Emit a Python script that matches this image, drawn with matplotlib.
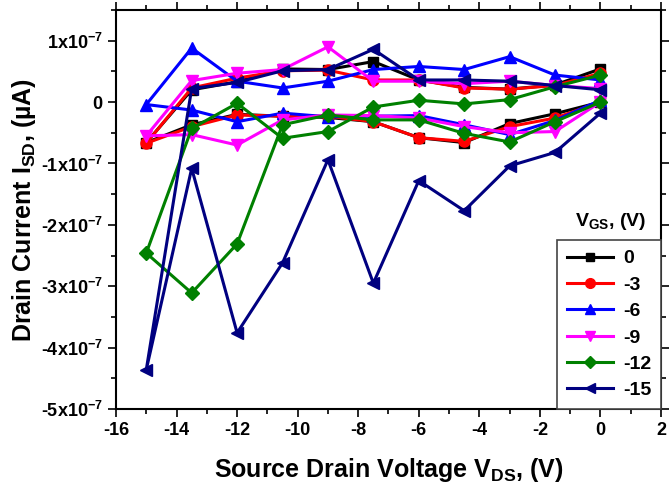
import matplotlib
matplotlib.use("Agg")
import matplotlib.pyplot as plt
from matplotlib.ticker import MultipleLocator, FixedLocator, FixedFormatter
from matplotlib.lines import Line2D

plt.rcParams['font.family'] = ['Liberation Sans', 'DejaVu Sans']
plt.rcParams['font.weight'] = 'bold'
plt.rcParams['mathtext.fontset'] = 'custom'
plt.rcParams['mathtext.rm'] = 'Liberation Sans:bold'
plt.rcParams['mathtext.bf'] = 'Liberation Sans:bold'
plt.rcParams['mathtext.it'] = 'Liberation Sans:bold'
plt.rcParams['axes.unicode_minus'] = False

# Source-drain voltage sweep (0 -> -15 -> 0)
vds = [0, -1.5, -3, -4.5, -6, -7.5, -9, -10.5, -12, -13.5, -15,
       -13.5, -12, -10.5, -9, -7.5, -6, -4.5, -3, -1.5, 0]

# Currents in units of 1e-7
i_0 = [0.0, -0.19, -0.35, -0.66, -0.58, -0.32, -0.25, -0.23, -0.20, -0.37, -0.66,
       0.20, 0.33, 0.54, 0.53, 0.66, 0.36, 0.24, 0.21, 0.28, 0.54]
i_m3 = [0.0, -0.26, -0.40, -0.64, -0.58, -0.32, -0.23, -0.23, -0.21, -0.40, -0.67,
        0.23, 0.39, 0.51, 0.52, 0.36, 0.36, 0.23, 0.21, 0.27, 0.47]
i_m6 = [0.03, -0.30, -0.53, -0.37, -0.22, -0.23, -0.24, -0.18, -0.32, -0.13, -0.04,
        0.88, 0.34, 0.23, 0.34, 0.53, 0.58, 0.53, 0.74, 0.44, 0.36]
i_m9 = [0.0, -0.48, -0.50, -0.40, -0.26, -0.22, -0.21, -0.29, -0.70, -0.53, -0.55,
        0.35, 0.47, 0.53, 0.90, 0.34, 0.34, 0.30, 0.34, 0.27, 0.22]
i_m12 = [0.0, -0.32, -0.65, -0.51, -0.29, -0.29, -0.21, -0.37, -2.31, -3.11, -2.46,
         -0.43, -0.02, -0.59, -0.48, -0.08, 0.03, -0.03, 0.04, 0.25, 0.44]
i_m15 = [-0.18, -0.82, -1.04, -1.77, -1.28, -2.95, -0.94, -2.62, -3.76, -1.08, -4.36,
         0.22, 0.32, 0.51, 0.53, 0.86, 0.36, 0.36, 0.34, 0.27, 0.20]

labels = ['0', '-3', '-6', '-9', '-12', '-15']
colors = ['#000000', '#FF0000', '#0000FF', '#FF00FF', '#008000', '#000080']
markers = ['s', 'o', '^', 'v', 'D', '<']
msizes = [7, 8, 8, 8, 7, 8]
series = [i_0, i_m3, i_m6, i_m9, i_m12, i_m15]

ytick_vals = [-5, -4, -3, -2, -1, 0, 1]
ytick_labels = ['-5x10$^{-7}$', '-4x10$^{-7}$', '-3x10$^{-7}$', '-2x10$^{-7}$',
                '-1x10$^{-7}$', '0', '1x10$^{-7}$']

fig = plt.figure(figsize=(6.69, 4.99), dpi=100)
ax = fig.add_axes([116/669, 1 - 409/499, (661-116)/669, (409-10)/499])

for ys, lab, c, m, ms in zip(series, labels, colors, markers, msizes):
    ax.plot(vds, [v * 1e-7 for v in ys], color=c, marker=m, markersize=ms,
            linewidth=2.2, label=lab, markeredgecolor=c, markerfacecolor=c)

ax.set_xlim(-16, 2)
ax.set_ylim(-5e-7, 1.5e-7)
ax.xaxis.set_major_locator(MultipleLocator(2))
ax.xaxis.set_minor_locator(MultipleLocator(1))
ax.yaxis.set_major_locator(FixedLocator([v * 1e-7 for v in ytick_vals]))
ax.yaxis.set_major_formatter(FixedFormatter(ytick_labels))
ax.yaxis.set_minor_locator(MultipleLocator(0.5e-7))

ax.tick_params(which='both', direction='out', top=True, right=True,
               labeltop=False, labelright=False, width=1.2)
ax.tick_params(which='major', length=6, labelsize=13)
ax.tick_params(which='minor', length=3.5)
for lbl in ax.get_xticklabels() + ax.get_yticklabels():
    lbl.set_fontweight('bold')
for sp in ax.spines.values():
    sp.set_linewidth(1.5)

ax.set_xlabel('Source Drain Voltage V$_{\\mathbf{DS}}$, (V)', fontsize=18,
              fontweight='bold', labelpad=12)
ax.set_ylabel('Drain Current I$_{\\mathbf{SD}}$, (µA)', fontsize=18,
              fontweight='bold', labelpad=2)

handles = [Line2D([0], [0], color=c, marker=m, markersize=ms - 1, linewidth=2.2)
           for c, m, ms in zip(colors, markers, msizes)]
leg = ax.legend(handles, labels, loc='lower right', bbox_to_anchor=(1, 0),
                borderaxespad=0, fancybox=False, framealpha=1, edgecolor='#444444',
                prop={'size': 14, 'weight': 'bold'}, handlelength=2.4,
                labelspacing=0.45, borderpad=0.5, handletextpad=0.5)
leg.get_frame().set_linewidth(1.2)

fig.text(611/669, 1 - 222/499, 'V$_{\\mathbf{GS}}$, (V)', ha='center', va='center',
         fontsize=14, fontweight='bold')

fig.savefig('out.png', dpi=100)
